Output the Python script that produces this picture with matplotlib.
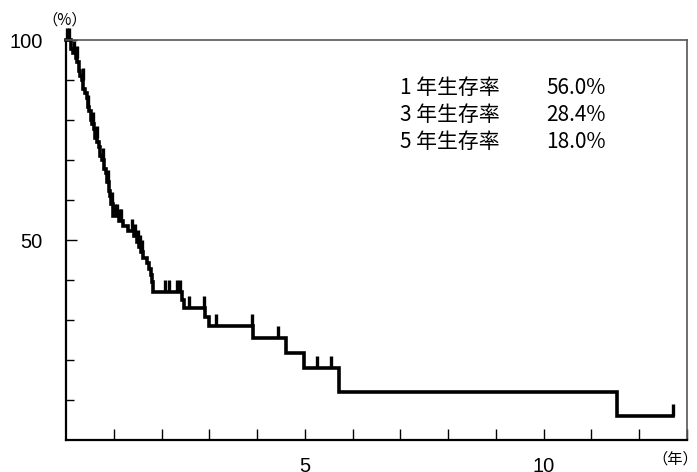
import matplotlib
matplotlib.use("Agg")
import matplotlib.pyplot as plt
import numpy as np

# Kaplan-Meier style curve (years, % surviving after each event)
event_years = [0.10, 0.14, 0.20, 0.24, 0.27, 0.30, 0.33, 0.36, 0.40, 0.43,
               0.46, 0.49, 0.52, 0.55, 0.58, 0.61, 0.65, 0.69, 0.72, 0.76,
               0.80, 0.83, 0.86, 0.89, 0.92, 0.95, 0.99, 1.10, 1.20, 1.30,
               1.42, 1.48, 1.52, 1.57, 1.62, 1.69, 1.74, 1.77, 1.80, 1.82,
               2.43, 2.46, 2.91, 2.99, 3.92, 4.60, 4.98, 5.71, 11.53]
survival_pct = [97.8, 96.7, 95.6, 94.4, 92.2, 91.1, 90.0, 87.8, 86.7, 85.6,
                83.3, 82.2, 80.0, 78.9, 77.8, 75.6, 74.4, 73.3, 71.1, 70.0,
                67.8, 66.7, 64.4, 62.2, 61.1, 58.9, 56.0, 54.8, 53.5, 52.2,
                50.9, 49.6, 48.3, 47.0, 45.6, 44.2, 42.7, 41.2, 39.6, 37.0,
                35.0, 33.0, 30.8, 28.4, 25.5, 21.7, 18.0, 12.0, 6.0]
last_followup = 12.7

# censored observations (years)
censor_years = [0.03, 0.06, 0.16, 0.22, 0.35, 0.47, 0.57, 0.64, 0.78, 0.87,
                0.96, 1.02, 1.06, 1.12, 1.16, 1.38, 1.45, 1.50, 1.55,
                1.60, 2.08, 2.15, 2.32, 2.39, 2.58, 2.89, 3.15, 3.90, 4.43,
                5.25, 5.54, 12.7]

rate_labels = ["1 年生存率", "3 年生存率", "5 年生存率"]
rate_values = ["56.0%", "28.4%", "18.0%"]

y_major = [50, 100]
y_minor = [10, 20, 30, 40, 60, 70, 80, 90]
x_major = [5, 10]
x_minor = [1, 2, 3, 4, 6, 7, 8, 9, 11, 12, 13]

plt.rcParams['font.family'] = ['Liberation Sans', 'DejaVu Sans']
cjk = ['Noto Sans CJK JP', 'DejaVu Sans']

fig = plt.figure(figsize=(6.97, 4.72), dpi=100)
ax = fig.add_axes([66 / 697, 32 / 472, 621 / 697, 400 / 472])

xs = [0] + event_years + [last_followup]
ys = [100] + survival_pct + [survival_pct[-1]]
ax.step(xs, ys, where='post', color='black', lw=2.6, clip_on=False,
        solid_joinstyle='miter')

# survival at each censoring time, taken from the step curve
levels = np.array([100] + survival_pct)
idx = np.searchsorted(event_years, censor_years, side='right')
ax.plot(censor_years, levels[idx], linestyle='none', marker=2,
        markersize=9, markeredgewidth=2.4, color='black', clip_on=False)

ax.set_xlim(0, 13)
ax.set_ylim(0, 100)

ax.set_yticks(y_major)
ax.set_yticks(y_minor, minor=True)
ax.set_xticks(x_major)
ax.set_xticks(x_minor, minor=True)
ax.tick_params(axis='both', which='both', direction='in', width=1,
               colors='black', labelsize=14.5)
ax.tick_params(axis='y', which='major', length=8, pad=17)
ax.tick_params(axis='y', which='minor', length=6)
ax.tick_params(axis='x', which='both', length=8, pad=12)

for side in ('left', 'bottom'):
    ax.spines[side].set_linewidth(1.6)
    ax.spines[side].set_color('black')
for side in ('top', 'right'):
    ax.spines[side].set_linewidth(1.2)
    ax.spines[side].set_color('#555555')

for i, (lab, val) in enumerate(zip(rate_labels, rate_values)):
    y = 1 - (88 + 27 * i) / 472
    fig.text(400 / 697, y, lab, family=cjk, fontsize=15, va='center', ha='left')
    fig.text(546 / 697, y, val, family=cjk, fontsize=15, va='center', ha='left')

fig.text(65 / 697, 1 - 20 / 472, "（%）", family=cjk, fontsize=11,
         ha='center', va='center')
fig.text(675 / 697, 1 - 459 / 472, "（年）", family=cjk, fontsize=11,
         ha='center', va='center')

fig.savefig('out.png', dpi=100)
